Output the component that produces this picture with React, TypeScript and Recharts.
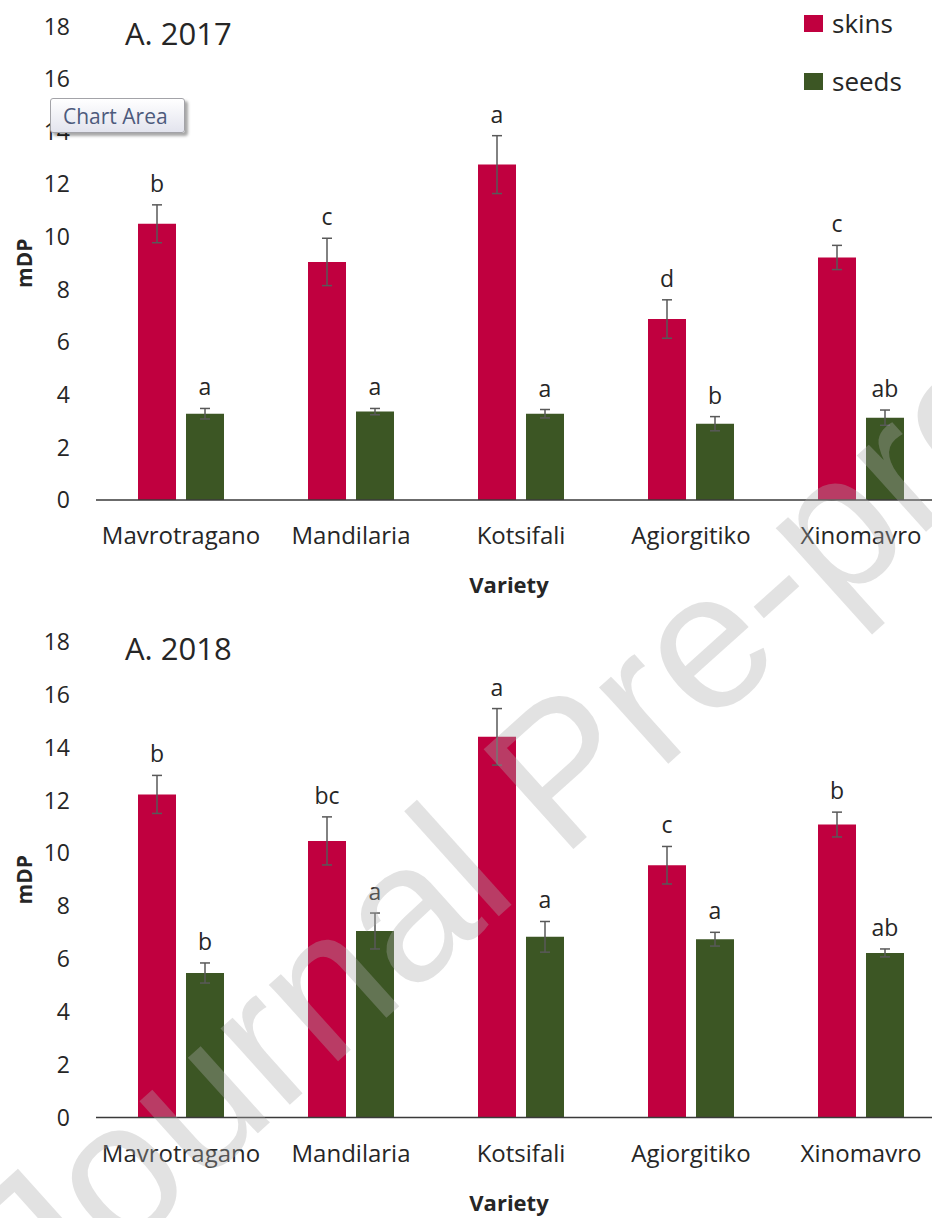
import React from 'react'
import { BarChart, Bar, XAxis, YAxis, ErrorBar, LabelList, Legend } from 'recharts'

// varieties, shared by both years
const varieties = ['Mavrotragano', 'Mandilaria', 'Kotsifali', 'Agiorgitiko', 'Xinomavro']
const yTicks = [0, 2, 4, 6, 8, 10, 12, 14, 16, 18]

// 2017
const skins2017 = [10.5, 9.05, 12.75, 6.88, 9.22]
const skinsErr2017 = [0.72, 0.9, 1.1, 0.73, 0.46]
const seeds2017 = [3.28, 3.36, 3.28, 2.9, 3.13]
const seedsErr2017 = [0.2, 0.12, 0.16, 0.27, 0.29]
const skinsLetters2017 = ['b', 'c', 'a', 'd', 'c']
const seedsLetters2017 = ['a', 'a', 'a', 'b', 'ab']

// 2018
const skins2018 = [12.23, 10.47, 14.41, 9.55, 11.09]
const skinsErr2018 = [0.72, 0.91, 1.07, 0.71, 0.47]
const seeds2018 = [5.47, 7.06, 6.84, 6.75, 6.23]
const seedsErr2018 = [0.38, 0.68, 0.58, 0.26, 0.15]
const skinsLetters2018 = ['b', 'bc', 'a', 'c', 'b']
const seedsLetters2018 = ['b', 'a', 'a', 'a', 'ab']

const SKIN = '#c0003f'
const SEED = '#3c5624'
const INK = '#262626'
const FONT = '"Open Sans", "Noto Sans", sans-serif'

const legendItems = [
  { name: 'skins', color: SKIN },
  { name: 'seeds', color: SEED },
]

function buildRows(
  skins: number[],
  skinsErr: number[],
  seeds: number[],
  seedsErr: number[],
  skinsLetters: string[],
  seedsLetters: string[],
) {
  return varieties.map((variety, i) => ({
    variety,
    skins: skins[i],
    skinsErr: skinsErr[i],
    seeds: seeds[i],
    seedsErr: seedsErr[i],
    skinsLetter: skinsLetters[i],
    seedsLetter: seedsLetters[i],
  }))
}

// significance letter sitting above the error bar cap
function letterLabel(values: number[], errs: number[]) {
  return (props: any) => {
    const { x, y, width, height, index, value } = props
    const perUnit = Number(height) / values[index]
    const capTop = Number(y) - errs[index] * perUnit
    return (
      <text
        x={Number(x) + Number(width) / 2}
        y={capTop - 13}
        textAnchor="middle"
        fontFamily={FONT}
        fontSize={23}
        fill={INK}
      >
        {value}
      </text>
    )
  }
}

function LegendBox() {
  return (
    <div style={{ position: 'relative', width: 140, height: 96, fontFamily: FONT }}>
      {legendItems.map((it, i) => (
        <div
          key={it.name}
          style={{ position: 'absolute', left: 0, top: i * 58, height: 30, display: 'flex', alignItems: 'center' }}
        >
          <span style={{ display: 'inline-block', width: 19, height: 17, background: it.color, marginLeft: 14 }} />
          <span style={{ marginLeft: 9, fontSize: 26, color: INK, lineHeight: '30px' }}>{it.name}</span>
        </div>
      ))}
    </div>
  )
}

interface PanelProps {
  title: string
  top: number
  height: number
  marginTop: number
  axisHeight: number
  marginBottom: number
  skins: number[]
  skinsErr: number[]
  seeds: number[]
  seedsErr: number[]
  skinsLetters: string[]
  seedsLetters: string[]
  legend?: boolean
}

function Panel(p: PanelProps) {
  const data = buildRows(p.skins, p.skinsErr, p.seeds, p.seedsErr, p.skinsLetters, p.seedsLetters)
  const plotBottom = p.height - p.marginBottom - p.axisHeight
  const plotMid = (p.marginTop + plotBottom) / 2
  return (
    <div style={{ position: 'absolute', left: 0, top: p.top, width: 960, height: p.height }}>
      <BarChart
        width={960}
        height={p.height}
        data={data}
        margin={{ top: p.marginTop, right: 14, left: 0, bottom: p.marginBottom }}
        barSize={38}
        barGap={10}
      >
        <XAxis
          dataKey="variety"
          interval={0}
          height={p.axisHeight}
          axisLine={{ stroke: '#3a3a3a', strokeWidth: 1.5 }}
          tickLine={false}
          tickSize={0}
          tickMargin={27}
          tick={{ fill: INK, fontSize: 24, fontFamily: FONT }}
          label={() => (
            <text
              x={509}
              y={plotBottom + 93}
              textAnchor="middle"
              fontFamily={FONT}
              fontWeight="bold"
              fontSize={22}
              fill={INK}
            >
              Variety
            </text>
          )}
        />
        <YAxis
          domain={[0, 18]}
          ticks={yTicks}
          width={96}
          axisLine={false}
          tickLine={false}
          tickSize={0}
          tickMargin={26}
          tick={{ fill: INK, fontSize: 23, fontFamily: FONT }}
          label={() => (
            <text
              x={24}
              y={plotMid}
              transform={`rotate(-90 24 ${plotMid})`}
              textAnchor="middle"
              dominantBaseline="central"
              fontFamily={FONT}
              fontWeight="bold"
              fontSize={21}
              fill={INK}
            >
              mDP
            </text>
          )}
        />
        {p.legend && (
          <Legend
            layout="vertical"
            align="center"
            verticalAlign="middle"
            wrapperStyle={{ top: 8, left: 790, width: 140 }}
            content={() => <LegendBox />}
          />
        )}
        <Bar dataKey="skins" name="skins" fill={SKIN} isAnimationActive={false}>
          <ErrorBar dataKey="skinsErr" width={5} stroke="#595959" strokeWidth={1.5} />
          <LabelList dataKey="skinsLetter" content={letterLabel(p.skins, p.skinsErr)} />
        </Bar>
        <Bar dataKey="seeds" name="seeds" fill={SEED} isAnimationActive={false}>
          <ErrorBar dataKey="seedsErr" width={5} stroke="#595959" strokeWidth={1.5} />
          <LabelList dataKey="seedsLetter" content={letterLabel(p.seeds, p.seedsErr)} />
        </Bar>
      </BarChart>
      <div
        style={{
          position: 'absolute',
          left: 125,
          top: p.marginTop - 14,
          fontFamily: FONT,
          fontSize: 31,
          lineHeight: '40px',
          color: INK,
          whiteSpace: 'nowrap',
        }}
      >
        {p.title}
      </div>
    </div>
  )
}

export default function App() {
  return (
    <div
      style={{
        position: 'absolute',
        left: 0,
        top: 0,
        width: 932,
        height: 1218,
        overflow: 'hidden',
        background: '#ffffff',
      }}
    >
      <Panel
        title="A. 2017"
        top={0}
        height={615}
        marginTop={26.5}
        axisHeight={110}
        marginBottom={5}
        skins={skins2017}
        skinsErr={skinsErr2017}
        seeds={seeds2017}
        seedsErr={seedsErr2017}
        skinsLetters={skinsLetters2017}
        seedsLetters={seedsLetters2017}
        legend
      />
      <Panel
        title="A. 2018"
        top={615}
        height={603}
        marginTop={27}
        axisHeight={96}
        marginBottom={4.5}
        skins={skins2018}
        skinsErr={skinsErr2018}
        seeds={seeds2018}
        seedsErr={seedsErr2018}
        skinsLetters={skinsLetters2018}
        seedsLetters={seedsLetters2018}
      />

      {/* Excel hover tooltip left in the screenshot */}
      <div
        style={{
          position: 'absolute',
          left: 50,
          top: 98,
          width: 135,
          height: 35,
          border: '1px solid #a3a3a8',
          borderRadius: 3,
          background: 'linear-gradient(#ffffff, #e3e4ee)',
          boxShadow: '3px 3px 3px rgba(0,0,0,0.35)',
          fontFamily: FONT,
          fontSize: 21,
          lineHeight: '35px',
          color: '#4d5a7c',
          paddingLeft: 12,
          boxSizing: 'border-box',
          whiteSpace: 'nowrap',
        }}
      >
        Chart Area
      </div>

      {/* journal watermark */}
      <svg
        width={932}
        height={1218}
        style={{ position: 'absolute', left: 0, top: 0, pointerEvents: 'none' }}
      >
        <text
          x={46}
          y={1324}
          transform="rotate(-42 46 1324)"
          fontFamily='"Liberation Sans", Arial, sans-serif'
          fontSize={195}
          fill="#ababab"
          fillOpacity={0.35}
        >
          Journal Pre-proof
        </text>
      </svg>
    </div>
  )
}
